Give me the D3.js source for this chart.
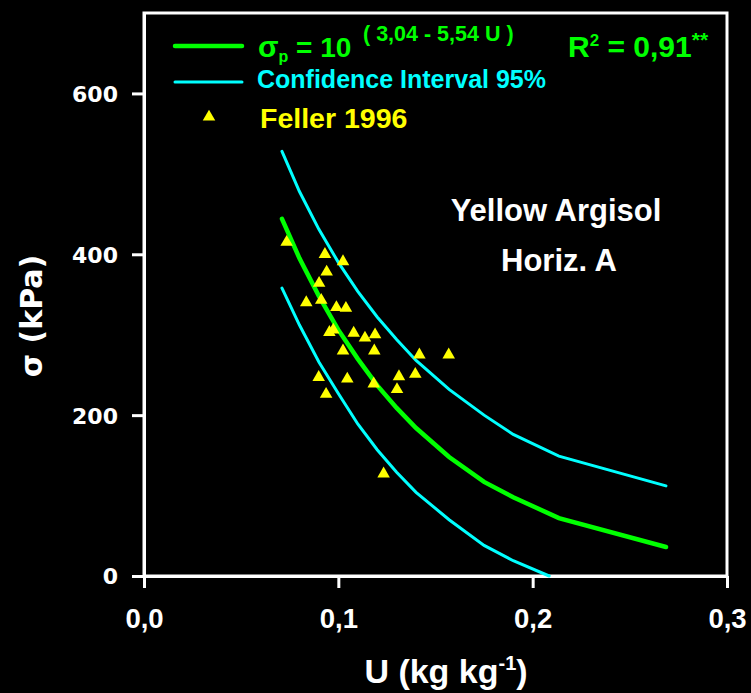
<!DOCTYPE html>
<html>
<head>
<script src="https://d3js.org/d3.v7.min.js"></script>
<style>
  body { margin: 0; background: #000; }
  svg { display: block; background: #000; }
  .axis line, .axis path { stroke: #fff; stroke-width: 3px; }
  .axis text { fill: #fff; }
  .arial { font-family: "Liberation Sans", Arial, sans-serif; font-weight: bold; }
  .wide { font-family: "DejaVu Sans", Verdana, sans-serif; font-weight: bold; }
</style>
</head>
<body>
<svg width="751" height="693"></svg>
<script>
// observed points (Feller 1996)
var obsU = [0.0734, 0.0931, 0.1024, 0.0940, 0.0901, 0.0835, 0.0912, 0.0990, 0.1039, 0.0954,
            0.0974, 0.1079, 0.1137, 0.1189, 0.1024, 0.1185, 0.1417, 0.1568, 0.0899, 0.1046,
            0.1312, 0.1396, 0.1182, 0.1302, 0.0937, 0.1233];
var obsS = [415, 400, 391, 378, 364, 340, 343, 334, 333, 303,
            306, 302, 296, 300, 280, 280, 275, 275, 247, 245,
            248, 251, 239, 232, 226, 127];

// fitted curve and 95% confidence band
var fitU = [0.071, 0.08, 0.09, 0.10, 0.11, 0.12, 0.13, 0.14, 0.157, 0.175, 0.19, 0.2135, 0.2686];
var fitS = [444, 395, 348, 306, 270, 237, 209, 184, 148, 117, 98, 72, 36];
var upS  = [528, 478, 431, 390, 354, 322, 294, 268, 232, 200, 176, 149, 112];
var lowU = [0.071, 0.08, 0.09, 0.10, 0.11, 0.12, 0.13, 0.14, 0.157, 0.175, 0.19, 0.2085];
var lowS = [358, 312, 266, 227, 189, 157, 129, 104, 70, 38, 19, 0];

var xTicks = [0, 0.1, 0.2, 0.3];
var yTicks = [0, 200, 400, 600];

var svg = d3.select("svg");

var x = d3.scaleLinear().domain([0, 0.3]).range([144, 727]);
var y = d3.scaleLinear().domain([0, 700]).range([576, 13]);

// frame
svg.append("rect")
    .attr("x", x(0)).attr("y", y(700))
    .attr("width", x(0.3) - x(0)).attr("height", y(0) - y(700))
    .attr("fill", "none").attr("stroke", "#fff").attr("stroke-width", 3);

svg.append("g")
    .attr("class", "axis arial")
    .attr("transform", "translate(0," + y(0) + ")")
    .call(d3.axisBottom(x).tickValues(xTicks).tickSize(12).tickSizeOuter(0).tickPadding(20)
        .tickFormat(function(d) { return d.toFixed(1).replace(".", ","); }))
    .selectAll("text").style("font-size", "27.5px");

svg.append("g")
    .attr("class", "axis wide")
    .attr("transform", "translate(" + x(0) + ",0)")
    .call(d3.axisLeft(y).tickValues(yTicks).tickSize(12).tickSizeOuter(0).tickPadding(14))
    .selectAll("text").style("font-size", "22px").attr("dy", "0.36em");

// lines
var line = d3.line().x(function(d) { return x(d[0]); }).y(function(d) { return y(d[1]); });

svg.append("path")
    .datum(d3.zip(fitU, upS))
    .attr("d", line).attr("fill", "none").attr("stroke", "#00ffff").attr("stroke-width", 3)
    .attr("stroke-linecap", "round");
svg.append("path")
    .datum(d3.zip(lowU, lowS))
    .attr("d", line).attr("fill", "none").attr("stroke", "#00ffff").attr("stroke-width", 3)
    .attr("stroke-linecap", "round");
svg.append("path")
    .datum(d3.zip(fitU, fitS))
    .attr("d", line).attr("fill", "none").attr("stroke", "#00ff00").attr("stroke-width", 4.5)
    .attr("stroke-linecap", "round");

// points
var tri = d3.symbol().type(d3.symbolTriangle).size(68);
svg.selectAll(".pt")
    .data(d3.zip(obsU, obsS))
  .enter().append("path")
    .attr("class", "pt")
    .attr("d", tri)
    .attr("transform", function(d) { return "translate(" + x(d[0]) + "," + y(d[1]) + ")"; })
    .attr("fill", "#ffff00");

// legend
svg.append("line").attr("x1", 175).attr("x2", 242).attr("y1", 46).attr("y2", 46)
    .attr("stroke", "#00ff00").attr("stroke-width", 4.5).attr("stroke-linecap", "round");
svg.append("line").attr("x1", 175).attr("x2", 242).attr("y1", 82).attr("y2", 82)
    .attr("stroke", "#00ffff").attr("stroke-width", 3).attr("stroke-linecap", "round");
svg.append("path").attr("d", tri).attr("transform", "translate(209,117)").attr("fill", "#ffff00");

var eq = svg.append("text").attr("class", "arial").attr("x", 258).attr("y", 57)
    .attr("fill", "#00ff00").style("font-size", "28px");
eq.append("tspan").style("font-size", "30px").text("σ");
eq.append("tspan").attr("dy", 5).style("font-size", "16px").text("p");
eq.append("tspan").attr("dy", -5).text(" = 10");
svg.append("text").attr("class", "arial").attr("x", 363).attr("y", 41)
    .attr("fill", "#00ff00").style("font-size", "21.5px").text("( 3,04 - 5,54 U )");

var r2 = svg.append("text").attr("class", "arial").attr("x", 568).attr("y", 57)
    .attr("fill", "#00ff00").style("font-size", "30px");
r2.append("tspan").text("R");
r2.append("tspan").attr("dy", -11).style("font-size", "17px").text("2");
r2.append("tspan").attr("dy", 11).text(" = 0,91");
r2.append("tspan").attr("dy", -10).style("font-size", "21px").text("**");

svg.append("text").attr("class", "arial").attr("x", 257).attr("y", 88)
    .attr("fill", "#00ffff").style("font-size", "25px").text("Confidence Interval 95%");
svg.append("text").attr("class", "arial").attr("x", 260).attr("y", 128)
    .attr("fill", "#ffff00").style("font-size", "28.5px").text("Feller 1996");

// annotation
svg.append("text").attr("class", "arial").attr("x", 556).attr("y", 221)
    .attr("text-anchor", "middle").attr("fill", "#fff").style("font-size", "31px").text("Yellow Argisol");
svg.append("text").attr("class", "arial").attr("x", 559).attr("y", 271)
    .attr("text-anchor", "middle").attr("fill", "#fff").style("font-size", "31px").text("Horiz. A");

// axis titles
var xt = svg.append("text").attr("class", "arial").attr("x", 446).attr("y", 683)
    .attr("text-anchor", "middle").attr("fill", "#fff").style("font-size", "34px");
xt.append("tspan").text("U (kg kg");
xt.append("tspan").attr("dy", -13).style("font-size", "20px").text("-1");
xt.append("tspan").attr("dy", 13).text(")");

svg.append("text").attr("class", "wide")
    .attr("transform", "translate(42,316) rotate(-90)")
    .attr("text-anchor", "middle").attr("fill", "#fff").style("font-size", "30px").text("σ (kPa)");
</script>
</body>
</html>
